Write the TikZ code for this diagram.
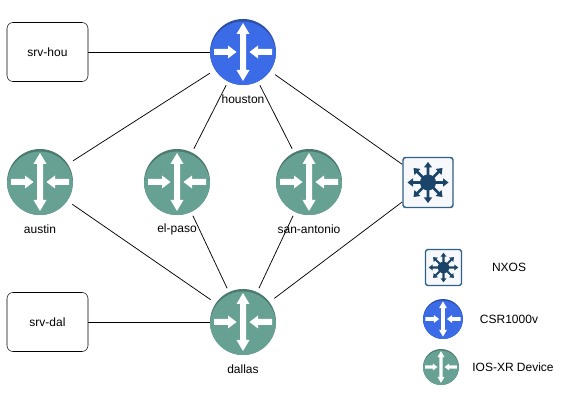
\documentclass[tikz,border=0pt]{standalone}
\usepackage{fontspec}
\setmainfont{Liberation Sans}
\usepackage{xcolor}

\definecolor{csrblue}{HTML}{3B6BE6}
\definecolor{csrrim}{HTML}{2C50A6}
\definecolor{xrgreen}{HTML}{67A193}
\definecolor{xrrim}{HTML}{4C7A6E}
\definecolor{nxnavy}{HTML}{1B4568}
\definecolor{nxframe}{HTML}{2F6088}
\definecolor{nxfill}{HTML}{F6F8FB}

% white arrows of a router, 33 units is the radius
\newcommand{\routerarrows}{%
	\fill [white] (0,-29) -- (6.5,-18) -- (3,-18) -- (3,18) -- (6.5,18) -- (0,29) -- (-6.5,18) -- (-3,18) -- (-3,-18) -- (-6.5,-18) -- cycle ;
	\fill [white] (-29,-3) -- (-15,-3) -- (-15,-6.5) -- (-6.5,0) -- (-15,6.5) -- (-15,3) -- (-29,3) -- cycle ;
	\fill [white] (29,-3) -- (15,-3) -- (15,-6.5) -- (6.5,0) -- (15,6.5) -- (15,3) -- (29,3) -- cycle ;
}
% eight spokes of a switch, 25 units is half the box
\newcommand{\switchspokes}{%
	\fill [nxnavy] (0,0) circle (8) ;
	\fill [nxnavy] (-1.4,-15) -- (-4.2,-15) -- (0,-20.5) -- (4.2,-15) -- (1.4,-15) -- (1.4,15) -- (4.2,15) -- (0,20.5) -- (-4.2,15) -- (-1.4,15) -- cycle ;
	\fill [nxnavy] (-15,-1.4) -- (-15,-4.2) -- (-20.5,0) -- (-15,4.2) -- (-15,1.4) -- (15,1.4) -- (15,4.2) -- (20.5,0) -- (15,-4.2) -- (15,-1.4) -- cycle ;
	\fill [nxnavy] (9.62,-11.6) -- (7.64,-13.58) -- (14.5,-14.5) -- (13.58,-7.64) -- (11.6,-9.62) -- (-9.62,11.6) -- (-7.64,13.58) -- (-14.5,14.5) -- (-13.58,7.64) -- (-11.6,9.62) -- cycle ;
	\fill [nxnavy] (-9.62,-11.6) -- (-7.64,-13.58) -- (-14.5,-14.5) -- (-13.58,-7.64) -- (-11.6,-9.62) -- (9.62,11.6) -- (7.64,13.58) -- (14.5,14.5) -- (13.58,7.64) -- (11.6,9.62) -- cycle ;
}

\tikzset{
	router/.style n args={3}{circle, inner sep=0pt, minimum size=#3*1.5pt, fill=#2,
		path picture={
			\begin{scope}[shift={(path picture bounding box.center)}, x=#3/33*0.75pt, y=#3/33*0.75pt, yscale=-1]
				\fill [#1] (0,-2.5) circle (33) ;
				\routerarrows
			\end{scope}
		}},
	switch/.style={rectangle, rounded corners=#1/25*2pt, inner sep=0pt, minimum size=#1*1.5pt, draw=nxframe, line width=1.1pt, fill=nxfill,
		path picture={
			\begin{scope}[shift={(path picture bounding box.center)}, x=#1/25*0.75pt, y=#1/25*0.75pt, yscale=-1, sharp corners]
				\switchspokes
			\end{scope}
		}},
	server/.style={rectangle, rounded corners=4.5pt, draw, line width=0.4pt, minimum width=60.75pt, minimum height=44.25pt, inner sep=0pt, font=\fontsize{9}{11}\selectfont},
	txt/.style={inner sep=0.75pt, font=\fontsize{9}{11}\selectfont},
	link/.style={line width=0.55pt},
	gap/.style={link, shorten >=#1*0.75pt, shorten <=#1*0.75pt},
}

\begin{document}
\begin{tikzpicture}[x=0.75pt,y=0.75pt,yscale=-1,xscale=1]
	\useasboundingbox (0,0) rectangle (578,402);

	%Shape: Routers
	\node [router={csrblue}{csrrim}{33}] (houston) at (243,52) {};
	\node [router={xrgreen}{xrrim}{33}] (austin) at (40,182) {};
	\node [router={xrgreen}{xrrim}{33}] (elpaso) at (177,182) {};
	\node [router={xrgreen}{xrrim}{33}] (sanantonio) at (309,182) {};
	\node [router={xrgreen}{xrrim}{33}] (dallas) at (243,322) {};
	%Shape: Switch
	\node [switch=25] (nxos) at (428,182.5) {};
	%Shape: Servers
	\node [server] (srvhou) at (47.5,52) {srv-hou};
	\node [server] (srvdal) at (47.5,322) {srv-dal};

	%Shape: Legend
	\node [switch=18] (nxoskey) at (443.5,267.5) {};
	\node [router={csrblue}{csrrim}{20}] (csrkey) at (443,319) {};
	\node [router={xrgreen}{xrrim}{18}] (xrkey) at (441,367) {};

	%Straight Lines
	\draw [link] (srvhou) -- (houston) ;
	\draw [link] (srvdal) -- (dallas) ;
	\draw [gap=6] (houston) -- (austin) ;
	\draw [gap=4] (houston) -- (elpaso) ;
	\draw [gap=4] (houston) -- (sanantonio) ;
	\draw [link, shorten <=4.5pt] (houston) -- (nxos) ;
	\draw [gap=6] (austin) -- (dallas) ;
	\draw [gap=4] (elpaso) -- (dallas) ;
	\draw [gap=4] (sanantonio) -- (dallas) ;
	\draw [link, shorten >=4.5pt] (nxos) -- (dallas) ;

	% Text Node
	\node [txt] (lblhouston) at (243,99) {houston};
	% Text Node
	\node [txt] (lblaustin) at (40,229) {austin};
	% Text Node
	\node [txt] (lblelpaso) at (177,229) {el-paso};
	% Text Node
	\node [txt] (lblsanantonio) at (309,229) {san-antonio};
	% Text Node
	\node [txt] (lbldallas) at (243,369) {dallas};
	% Text Node
	\node [txt] (lblnxos) at (509,267) {NXOS};
	% Text Node
	\node [txt] (lblcsr) at (509,319) {CSR1000v};
	% Text Node
	\node [txt] (lblxr) at (513,367) {IOS-XR Device};
\end{tikzpicture}
\end{document}
